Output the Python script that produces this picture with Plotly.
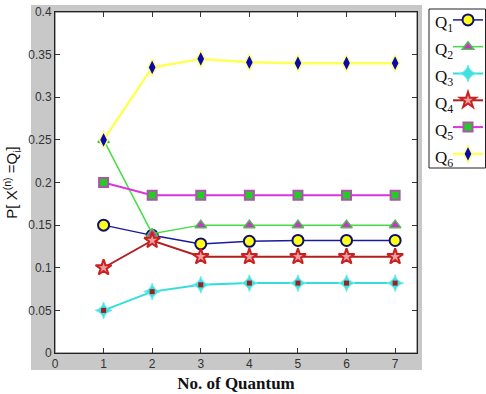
import plotly.graph_objects as go

quanta = [1, 2, 3, 4, 5, 6, 7]
q1 = [0.150, 0.138, 0.128, 0.131, 0.132, 0.132, 0.132]
q2 = [0.250, 0.140, 0.150, 0.150, 0.150, 0.150, 0.150]
q3 = [0.050, 0.072, 0.080, 0.082, 0.082, 0.082, 0.082]
q4 = [0.100, 0.132, 0.113, 0.113, 0.113, 0.113, 0.113]
q5 = [0.200, 0.185, 0.185, 0.185, 0.185, 0.185, 0.185]
q6 = [0.250, 0.335, 0.345, 0.341, 0.340, 0.340, 0.340]
series_names = ["Q<sub>1</sub>", "Q<sub>2</sub>", "Q<sub>3</sub>", "Q<sub>4</sub>", "Q<sub>5</sub>", "Q<sub>6</sub>"]
y_ticks = [0, 0.05, 0.1, 0.15, 0.2, 0.25, 0.3, 0.35, 0.4]
y_tick_labels = ["0", "0.05", "0.1", "0.15", "0.2", "0.25", "0.3", "0.35", "0.4"]
x_ticks = [0, 1, 2, 3, 4, 5, 6, 7]

# plot area geometry in pixels
L, R, T, B = 55, 69, 12, 41
W, H = 486, 394
PW, PH = W - L - R, H - T - B

def px(xp):
    return (xp - L) / PW

def py(yp):
    return (H - B - yp) / PH

def hov(i):
    return "Q" + str(i + 1) + ": %{y}<extra></extra>"

fig = go.Figure()

fig.add_trace(go.Scatter(x=quanta, y=q1, name="", hovertemplate=hov(0), mode="lines+markers", legendgroup="g1",
    line=dict(color="#1a1a9a", width=1.5),
    marker=dict(symbol="circle", size=11, color="#ffff1a", line=dict(color="#10106a", width=2))))
fig.add_trace(go.Scatter(x=quanta, y=q2, name="", hovertemplate=hov(1), mode="lines+markers", legendgroup="g2",
    line=dict(color="#44dd44", width=1.5),
    marker=dict(symbol="triangle-up", size=10, color="#cc33cc", line=dict(color="#55bb55", width=1.5))))
fig.add_trace(go.Scatter(x=quanta, y=q3, name="", hovertemplate=hov(2), mode="lines+markers", legendgroup="g3",
    line=dict(color="#33dddd", width=2),
    marker=dict(symbol="star-diamond", size=12, color="#44e0e0", line=dict(color="#66eeee", width=1))))
fig.add_trace(go.Scatter(x=quanta, y=q3, name="", hoverinfo="skip", mode="markers", showlegend=False, legendgroup="g3",
    marker=dict(symbol="square", size=5, color="#992222")))
fig.add_trace(go.Scatter(x=quanta, y=q4, name="", hovertemplate=hov(3), mode="lines+markers", legendgroup="g4",
    line=dict(color="#b02020", width=2),
    marker=dict(symbol="star", size=12, color="#e8a0a0", line=dict(color="#cc2020", width=2))))
fig.add_trace(go.Scatter(x=quanta, y=q5, name="", hovertemplate=hov(4), mode="lines+markers", legendgroup="g5",
    line=dict(color="#dd33dd", width=2),
    marker=dict(symbol="square", size=9, color="#22cc22", line=dict(color="#aa55aa", width=2))))
fig.add_trace(go.Scatter(x=quanta, y=q6, name="", hovertemplate=hov(5), mode="lines+markers", legendgroup="g6",
    line=dict(color="#ffff55", width=2.5),
    marker=dict(symbol="diamond-tall", size=12, color="#0a0aaa", line=dict(color="#ffff88", width=1.5))))

# figure gray panel
fig.add_shape(type="rect", xref="paper", yref="paper",
    x0=px(31), x1=px(422), y0=py(370), y1=py(5),
    fillcolor="#c8c8c8", line=dict(width=0), layer="below")
fig.add_shape(type="rect", xref="paper", yref="paper",
    x0=0, x1=1, y0=0, y1=1,
    fillcolor="white", line=dict(color="#555555", width=1), layer="below")
# legend box
fig.add_shape(type="rect", xref="paper", yref="paper",
    x0=px(429), x1=px(485.5), y0=py(168), y1=py(9),
    fillcolor="white", line=dict(color="#222222", width=1), layer="below")

# legend labels (text left of the symbols, as in the reference)
for i, nm in enumerate(series_names):
    fig.add_annotation(x=px(433), y=py(24 + 27 * i), xref="paper", yref="paper",
        text=nm, showarrow=False, xanchor="left", yanchor="middle",
        font=dict(family="Liberation Serif, Times New Roman", size=17, color="#111111"))

axis_common = dict(showgrid=False, zeroline=False, ticks="inside", ticklen=5,
    tickcolor="#333333", mirror="ticks", showline=True, linecolor="#222222", linewidth=1,
    tickfont=dict(family="Liberation Sans, Arial", size=12, color="#333333"))

fig.update_layout(
    width=W, height=H,
    margin=dict(l=L, r=R, t=T, b=B, autoexpand=False),
    paper_bgcolor="white", plot_bgcolor="rgba(0,0,0,0)",
    xaxis=dict(range=[0, 7.45], tickvals=x_ticks, **axis_common,
        title=dict(text="<b>No. of Quantum</b>", standoff=6,
                   font=dict(family="Liberation Serif, Times New Roman", size=17, color="#111111"))),
    yaxis=dict(range=[0, 0.4], tickvals=y_ticks, ticktext=y_tick_labels, **axis_common,
        title=dict(text="P[ X<sup>(n)</sup> =Q<sub>i</sub>]", standoff=6,
                   font=dict(family="Liberation Sans, Arial", size=15, color="#111111"))),
    legend=dict(x=px(448), y=py(3), xanchor="left", yanchor="top",
        bgcolor="rgba(0,0,0,0)", borderwidth=0,
        font=dict(family="Liberation Serif, Times New Roman", size=16, color="#111111"),
        traceorder="grouped", tracegroupgap=3, itemwidth=30),
    showlegend=True,
)

fig.write_html("out.html")
